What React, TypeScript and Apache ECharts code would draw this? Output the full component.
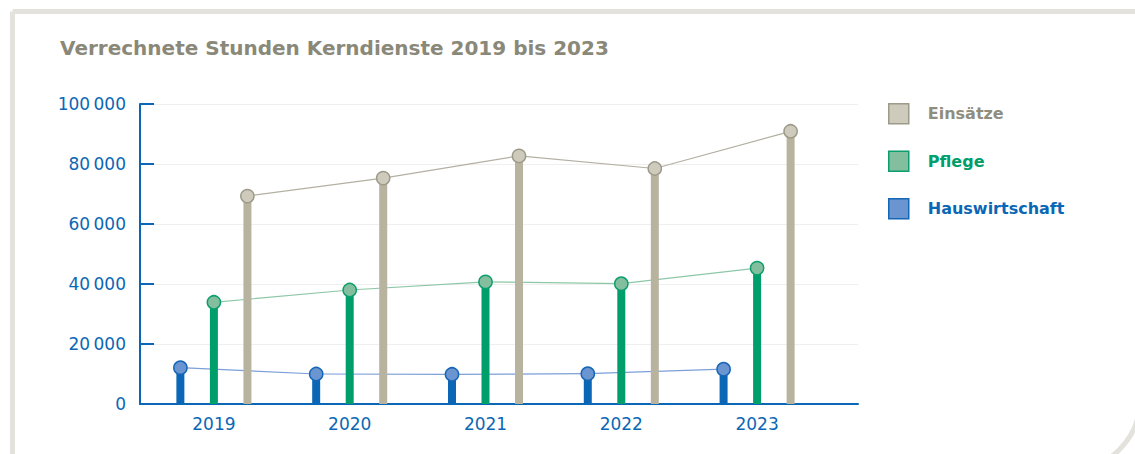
import React, { useEffect, useRef } from "react";
import * as echarts from "echarts";

const years = ["2019", "2020", "2021", "2022", "2023"];
const hauswirtschaft = [12100, 10000, 9900, 10100, 11600];
const pflege = [33900, 38000, 40700, 40100, 45300];
const einsaetze = [69300, 75300, 82700, 78500, 90900];

const BLUE = "#0b67b5";
const GREEN = "#009e6b";
const GREY_BAR = "#b8b39f";

const seriesDefs = [
  { name: "Hauswirtschaft", values: hauswirtschaft, bar: BLUE, fill: "#6a95d1", border: "#1566b6", line: "#7c9fd9", offset: -33.5 },
  { name: "Pflege", values: pflege, bar: GREEN, fill: "#83bf9f", border: "#0c9e6c", line: "#8dc7a7", offset: 0 },
  { name: "Einsätze", values: einsaetze, bar: GREY_BAR, fill: "#cfcbbc", border: "#9d9a8a", line: "#b3b0a2", offset: 33.5 },
];

const fmt = (v: number) => String(v).replace(/\B(?=(\d{3})+(?!\d))/g, "\u202F");

export default function App() {
  const ref = useRef<HTMLDivElement>(null);
  useEffect(() => {
    if (!ref.current) return;
    const chart = echarts.init(ref.current, null, { renderer: "svg" });
    const font = "DejaVu Sans";
    const series: any[] = [];
    seriesDefs.forEach((s) => {
      series.push({
        type: "custom",
        name: s.name + "-line",
        xAxisIndex: 1,
        yAxisIndex: 1,
        z: 1,
        data: s.values.map((v, i) => [i, v]),
        encode: { x: 0, y: 1 },
        renderItem: (params: any, api: any) => {
          const i = params.dataIndex;
          if (i >= s.values.length - 1) return { type: "group", children: [] };
          const p = api.coord([i, s.values[i]]);
          const q = api.coord([i + 1, s.values[i + 1]]);
          return {
            type: "line",
            shape: { x1: p[0] + s.offset, y1: p[1], x2: q[0] + s.offset, y2: q[1] },
            style: { stroke: s.line, lineWidth: 1.2 },
          };
        },
      });
    });
    seriesDefs.forEach((s) => {
      series.push({
        type: "bar",
        name: s.name,
        xAxisIndex: 1,
        yAxisIndex: 1,
        z: 2,
        barWidth: 8,
        barGap: "319%",
        data: s.values,
        itemStyle: { color: s.bar },
      });
    });
    seriesDefs.forEach((s) => {
      series.push({
        type: "custom",
        name: s.name + "-marker",
        xAxisIndex: 1,
        yAxisIndex: 1,
        z: 3,
        data: s.values.map((v, i) => [i, v]),
        encode: { x: 0, y: 1 },
        renderItem: (params: any, api: any) => {
          const p = api.coord([api.value(0), api.value(1)]);
          return {
            type: "circle",
            shape: { cx: p[0] + s.offset, cy: p[1], r: 6.6 },
            style: { fill: s.fill, stroke: s.border, lineWidth: 1.5 },
          };
        },
      });
    });

    const legendOrder = [seriesDefs[2], seriesDefs[1], seriesDefs[0]];
    const textColors: Record<string, string> = {
      "Einsätze": "#8f8d7e",
      Pflege: GREEN,
      Hauswirtschaft: BLUE,
    };

    chart.setOption({
      animation: false,
      backgroundColor: "#ffffff",
      title: {
        text: "Verrechnete Stunden Kerndienste 2019 bis 2023",
        left: 60,
        top: 38,
        padding: 0,
        textStyle: { fontFamily: font, fontWeight: "bold", fontSize: 20, color: "#8a8878" },
      },
      graphic: [
        {
          type: "rect",
          silent: true,
          z: -10,
          shape: { x: 12.5, y: 11.5, width: 1127.5, height: 458.5, r: [0, 0, 70, 0] },
          style: { fill: "none", stroke: "#e3e2dc", lineWidth: 5 },
        },
      ],
      legend: {
        orient: "vertical",
        left: 888,
        top: 103,
        padding: 0,
        itemWidth: 20,
        itemHeight: 20,
        itemGap: 26,
        icon: "rect",
        selectedMode: false,
        data: legendOrder.map((s) => ({
          name: s.name,
          itemStyle: { color: s.fill, borderColor: s.border, borderWidth: 1.5 },
          textStyle: {
            color: textColors[s.name],
            fontFamily: font,
            fontWeight: "bold",
            fontSize: 16,
            padding: [0, 0, 0, 14],
          },
        })),
      },
      grid: [
        { left: 140, top: 104, width: 718, height: 300 },
        { left: 146, top: 104, width: 679, height: 300 },
      ],
      xAxis: [
        {
          type: "value",
          gridIndex: 0,
          min: 0,
          max: 1,
          axisLine: { show: true, lineStyle: { color: BLUE, width: 2 } },
          axisTick: { show: false },
          axisLabel: { show: false },
          splitLine: { show: false },
        },
        {
          type: "category",
          gridIndex: 1,
          data: years,
          axisLine: { show: false },
          axisTick: { show: false },
          axisLabel: { color: BLUE, fontFamily: font, fontSize: 17, margin: 11 },
        },
      ],
      yAxis: [
        {
          type: "value",
          gridIndex: 0,
          min: 0,
          max: 100000,
          interval: 20000,
          axisLine: { show: true, lineStyle: { color: BLUE, width: 2 } },
          axisTick: { show: true, inside: true, length: 14, lineStyle: { color: BLUE, width: 2 } },
          axisLabel: { color: BLUE, fontFamily: font, fontSize: 17, margin: 14, formatter: (v: number) => fmt(v) },
          splitLine: { show: true, lineStyle: { color: "#efefef", width: 1 } },
        },
        {
          type: "value",
          gridIndex: 1,
          min: 0,
          max: 100000,
          show: false,
          splitLine: { show: false },
        },
      ],
      series,
    });
    return () => chart.dispose();
  }, []);
  return (
    <div
      ref={ref}
      style={{ position: "fixed", left: 0, top: 0, width: 1135, height: 454, background: "#fff" }}
    />
  );
}
